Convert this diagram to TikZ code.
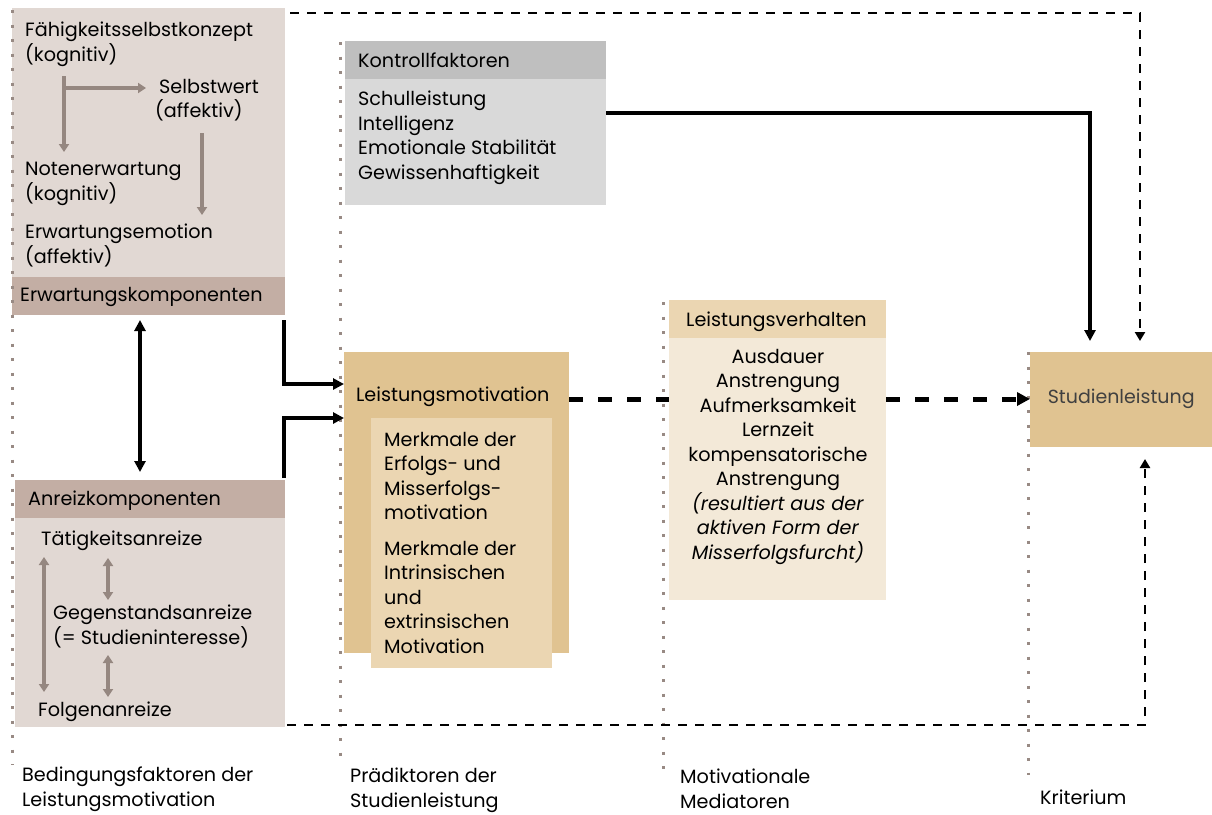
\documentclass[tikz,border=0pt]{standalone}
\usepackage{fontspec}
\setmainfont{Poppins}
\usetikzlibrary{arrows.meta}
\definecolor{leftbody}{HTML}{E1D8D3}
\definecolor{lefthead}{HTML}{C3AEA4}
\definecolor{tanbox}{HTML}{E0C391}
\definecolor{tanlight}{HTML}{EBD6B2}
\definecolor{tanpale}{HTML}{F3E9D8}
\definecolor{ctrlhead}{HTML}{BFBFBF}
\definecolor{ctrlbody}{HTML}{D9D9D9}
\definecolor{arrowgray}{HTML}{958780}
\definecolor{dotgray}{HTML}{988A84}
\definecolor{labelgray}{HTML}{404040}
\begin{document}
\begin{tikzpicture}[x=1pt,y=-1pt,
  panel/.style={draw=none,inner sep=0,anchor=north west},
  txt/.style={inner sep=0,anchor=north west,align=left,text=black,
    font=\fontsize{19.2}{24.5}\selectfont},
  ctxt/.style={txt,anchor=north,align=center},
  grayarrow/.style={draw=arrowgray,line width=3.4pt,-{Triangle[width=10pt,length=8pt]}},
  graydouble/.style={draw=arrowgray,line width=3.4pt,{Triangle[width=10pt,length=8pt]}-{Triangle[width=10pt,length=8pt]}},
  solidarrow/.style={draw=black,line width=3.2pt,-{Triangle[width=11pt,length=11pt]}},
  soliddouble/.style={draw=black,line width=3.2pt,{Triangle[width=11pt,length=11pt]}-{Triangle[width=11pt,length=11pt]}},
  thinDash/.style={draw=black,line width=2.6pt,dash pattern=on 9pt off 8pt,-{Triangle[width=10pt,length=9pt]}},
  thickDash/.style={draw=black,line width=5pt,dash pattern=on 14pt off 15pt},
  divider/.style={draw=dotgray,line width=3pt,dash pattern=on 3pt off 11.5pt},
]
\useasboundingbox (0,0) rectangle (1212,814);

% column dividers
\coordinate (d1t) at (12,10);   \coordinate (d1b) at (12,765);
\coordinate (d2t) at (340,42);  \coordinate (d2b) at (340,765);
\coordinate (d3t) at (663,302); \coordinate (d3b) at (663,780);
\coordinate (d4t) at (1028,352);\coordinate (d4b) at (1028,775);

% expectancy components
\node[panel,fill=leftbody,minimum width=273,minimum height=269] (erwBody) at (12,8) {};
\node[panel,fill=lefthead,minimum width=273,minimum height=38] (erwHead) at (12,277) {};
\node[txt] (erwLbl) at (20,287) {Erwartungskomponenten};
\node[txt] (fsk) at (25,22) {Fähigkeitsselbstkonzept\\(kognitiv)};
\node[txt] (sw) at (155,79) {\hspace*{4pt}Selbstwert\\(affektiv)};
\node[txt] (ne) at (25,162) {Notenerwartung\\(kognitiv)};
\node[txt] (ee) at (25,224) {Erwartungsemotion\\(affektiv)};
\coordinate (fskA) at (64,76);
\coordinate (fskB) at (64,152);
\coordinate (fskC) at (64,88);
\coordinate (swIn) at (146,88);
\coordinate (swA) at (202,133);
\coordinate (swB) at (202,215);
\draw[grayarrow] (fskA) -- (fskB);
\draw[grayarrow] (fskC) -- (swIn);
\draw[grayarrow] (swA) -- (swB);

% incentive components
\node[panel,fill=lefthead,minimum width=270,minimum height=38] (anrHead) at (15,480) {};
\node[panel,fill=leftbody,minimum width=270,minimum height=209] (anrBody) at (15,518) {};
\node[txt] (anrLbl) at (28,491) {Anreizkomponenten};
\node[txt] (ta) at (41,531) {Tätigkeitsanreize};
\node[txt] (ga) at (53,605) {Gegenstandsanreize\\(= Studieninteresse)};
\node[txt] (fa) at (38,702) {Folgenanreize};
\draw[graydouble] (44,557) -- (44,692);
\draw[graydouble] (108,558) -- (108,600);
\draw[graydouble] (108,655) -- (108,697);

% control factors
\node[panel,fill=ctrlbody,minimum width=261,minimum height=164] (kfBody) at (345,41) {};
\node[panel,fill=ctrlhead,minimum width=261,minimum height=38] (kfHead) at (345,41) {};
\node[txt] (kfLbl) at (358,53) {Kontrollfaktoren};
\node[txt] (kfTxt) at (358,91) {Schulleistung\\Intelligenz\\Emotionale Stabilität\\Gewissenhaftigkeit};

% achievement motivation
\node[panel,fill=tanbox,minimum width=225,minimum height=301] (lm) at (344,352) {};
\node[txt] (lmLbl) at (356,387) {Leistungsmotivation};
\node[panel,fill=tanlight,minimum width=181,minimum height=250] (lmIn) at (371,418) {};
\node[txt] (lmTxt1) at (384,432) {Merkmale der\\Erfolgs- und\\Misserfolgs-\\motivation};
\node[txt] (lmTxt2) at (384,541) {Merkmale der\\Intrinsischen\\und\\extrinsischen\\Motivation};

% achievement behaviour
\node[panel,fill=tanpale,minimum width=217,minimum height=262] (lvBody) at (669,338) {};
\node[panel,fill=tanlight,minimum width=217,minimum height=38] (lvHead) at (669,300) {};
\node[txt] (lvLbl) at (686,312) {Leistungsverhalten};
\node[ctxt] (lvTxt) at (778,349) {Ausdauer\\Anstrengung\\Aufmerksamkeit\\Lernzeit\\kompensatorische\\Anstrengung\\\textit{(resultiert aus der}\\\textit{aktiven Form der}\\\textit{Misserfolgsfurcht)}};

% criterion
\node[panel,fill=tanbox,minimum width=182,minimum height=95] (sl) at (1030,352) {};
\node[txt,anchor=center,text=labelgray,font=\fontsize{19}{22}\selectfont] (slLbl) at ([yshift=1pt]sl.center) {Studienleistung};

% column labels
\node[txt] (c1) at (22,767) {Bedingungsfaktoren der\\Leistungsmotivation};
\node[txt] (c2) at (350,768) {Prädiktoren der\\Studienleistung};
\node[txt] (c3) at (680,769) {Motivationale\\Mediatoren};
\node[txt] (c4) at (1040,790) {Kriterium};

% dividers on top of panels
\draw[divider] (d1t) -- (d1b);
\draw[divider] (d2t) -- (d2b);
\draw[divider] (d3t) -- (d3b);
\draw[divider] (d4t) -- (d4b);

% connectors
\draw[soliddouble] (140,320) -- (140,472);
\draw[solidarrow] (284,320) |- (lm.west |- 0,384);
\draw[solidarrow] (284,478) |- (lm.west |- 0,418);
\draw[solidarrow] (kfBody.east |- 0,113) -| (1090,341);
\draw[thinDash] (290,13) -| (1140,341);
\draw[thinDash] (287,725) -| (1145,459);
\draw[thickDash] (lm.east |- 0,399) -- (lvBody.west |- 0,399);
\draw[thickDash,-{Triangle[width=13pt,length=13pt]}] (lvBody.east |- 0,399) -- (sl.west |- 0,399);
\end{tikzpicture}
\end{document}
